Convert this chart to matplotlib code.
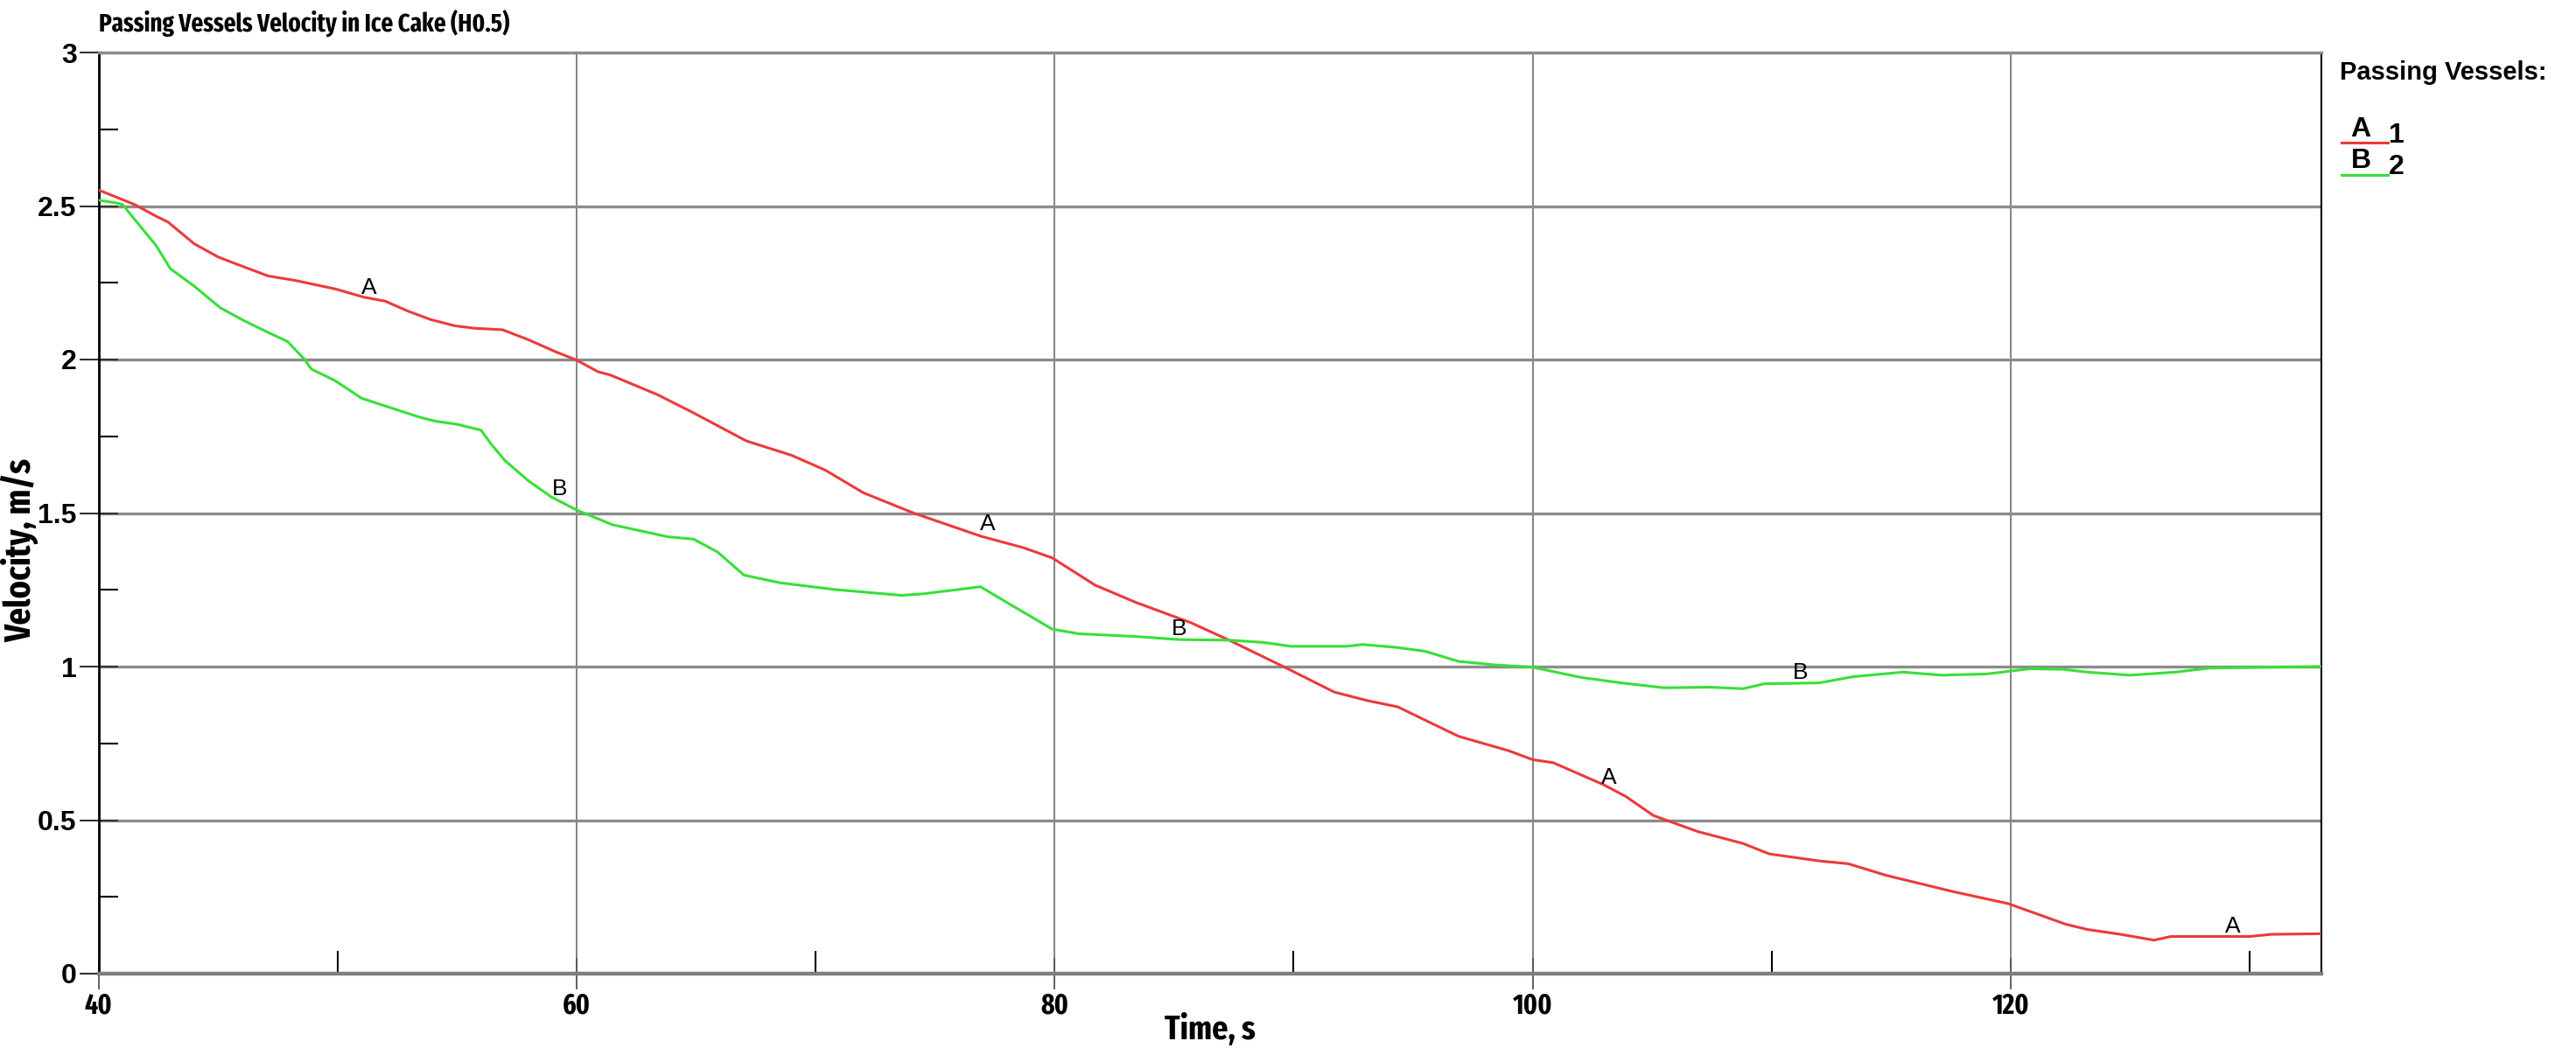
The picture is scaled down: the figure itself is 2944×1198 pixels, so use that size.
import numpy as np
import matplotlib
matplotlib.use("Agg")
import matplotlib.pyplot as plt
from matplotlib.lines import Line2D
from matplotlib.legend_handler import HandlerLine2D
from matplotlib.text import Text
from matplotlib.ticker import MultipleLocator

# ---------------- data ----------------
time_a = [40, 40.9, 41.5, 42.4, 42.9, 44, 45, 45.8, 47.1, 48.2, 49.9, 51.1, 52, 52.9,
          53.9, 54.9, 55.7, 56.9, 58, 59.1, 60, 60.9, 61.4, 63.4, 64.8, 67.1, 69, 70.4,
          72, 74.1, 76.9, 78.7, 79.9, 81.7, 83.4, 85.7, 87.3, 89.65, 91.7, 93.1, 94.35,
          96.9, 99, 100, 100.86, 102.95, 103.9, 105.05, 106.9, 108.8, 109.9, 112, 113.2,
          114.8, 117.6, 119.9, 122.3, 123.2, 124.6, 126, 126.7, 130, 130.9, 133]
vel_a = [2.552, 2.524, 2.505, 2.467, 2.448, 2.377, 2.334, 2.31, 2.272, 2.258, 2.23, 2.203,
         2.19, 2.159, 2.13, 2.11, 2.102, 2.097, 2.064, 2.026, 1.998, 1.96, 1.95, 1.885,
         1.83, 1.735, 1.688, 1.64, 1.566, 1.5, 1.425, 1.387, 1.354, 1.265, 1.209, 1.143,
         1.086, 0.997, 0.917, 0.889, 0.869, 0.773, 0.726, 0.697, 0.687, 0.616, 0.577,
         0.515, 0.463, 0.424, 0.39, 0.367, 0.358, 0.32, 0.267, 0.228, 0.161, 0.144,
         0.128, 0.109, 0.121, 0.121, 0.128, 0.13]

time_b = [40, 40.8, 41, 41.7, 42.4, 43, 44, 45.1, 46.1, 47.1, 47.9, 48.6, 48.9, 49.9, 51,
          52.1, 53.4, 54.1, 55, 56, 56.4, 57, 58, 58.95, 60, 61.5, 63.8, 64.9, 65.9, 67,
          68.5, 70.8, 73.6, 74.5, 76.9, 78, 79.9, 81, 83.4, 85.2, 87.3, 88.7, 89.9, 92.2,
          92.9, 94.35, 95.5, 96.9, 98.5, 100, 102, 103.7, 105.5, 107.4, 108.8, 109.7, 112,
          113.4, 115.5, 117.1, 119, 120.8, 122.2, 123.2, 125, 126.9, 128.3, 130.8, 133]
vel_b = [2.519, 2.509, 2.505, 2.438, 2.372, 2.296, 2.239, 2.168, 2.126, 2.088, 2.059,
         2.002, 1.969, 1.931, 1.874, 1.846, 1.813, 1.799, 1.789, 1.77, 1.727, 1.671,
         1.604, 1.552, 1.51, 1.462, 1.423, 1.415, 1.373, 1.298, 1.273, 1.251, 1.232,
         1.237, 1.26, 1.209, 1.122, 1.107, 1.098, 1.088, 1.086, 1.079, 1.066, 1.066,
         1.072, 1.062, 1.05, 1.017, 1.005, 0.998, 0.965, 0.947, 0.931, 0.933, 0.928,
         0.944, 0.947, 0.967, 0.982, 0.972, 0.976, 0.993, 0.991, 0.982, 0.972, 0.982,
         0.995, 0.998, 1.0]

# curve-marker letters along the lines
mark_a_t = [51.3, 77.2, 103.2, 129.3]
mark_a_v = [2.20, 1.43, 0.605, 0.121]
mark_b_t = [59.3, 85.2, 111.2]
mark_b_v = [1.545, 1.088, 0.946]

series_names = ["1", "2"]
title = "Passing Vessels Velocity in Ice Cake (H0.5)"
legend_title = "Passing Vessels:"
xlabel = "Time, s"
ylabel = "Velocity, m/s"
xticks = [40, 60, 80, 100, 120]
yticks = [0, 0.5, 1, 1.5, 2, 2.5, 3]
ytick_labels = ["0", "0.5", "1", "1.5", "2", "2.5", "3"]

RED = "#ec3a3a"
GREEN = "#38df38"
NARROW = ["Fira Sans Extra Condensed", "IBM Plex Sans Condensed", "Liberation Sans", "DejaVu Sans"]
WIDE = ["Liberation Sans", "DejaVu Sans"]

W, H = 2944, 1198
fig = plt.figure(figsize=(W / 100, H / 100), dpi=100)
L, R, T, B = 112.7, 2653, 60, 1113
ax = fig.add_axes([L / W, 1 - B / H, (R - L) / W, (B - T) / H])

ax.set_xlim(40, 133)
ax.set_ylim(0, 3)

for x in xticks[1:]:
    ax.axvline(x, color="#7a7a7a", lw=1.3, zorder=0)
for y in yticks[1:]:
    ax.axhline(y, color="#8c8c8c", lw=2.4, zorder=0)

ax.plot(time_a, vel_a, color=RED, lw=2.2, zorder=3)
ax.plot(time_b, vel_b, color=GREEN, lw=2.2, zorder=3)

for t, v in zip(mark_a_t, mark_a_v):
    ax.text(t, v, "A", ha="center", va="bottom", fontsize=19, family=WIDE, color="black", zorder=4)
for t, v in zip(mark_b_t, mark_b_v):
    ax.text(t, v, "B", ha="center", va="bottom", fontsize=19, family=WIDE, color="black", zorder=4)

ax.spines["top"].set_color("#8c8c8c")
ax.spines["top"].set_linewidth(2.4)
ax.spines["bottom"].set_color("#7f7f7f")
ax.spines["bottom"].set_linewidth(3.2)
ax.spines["left"].set_color("black")
ax.spines["left"].set_linewidth(2.0)
ax.spines["right"].set_color("black")
ax.spines["right"].set_linewidth(1.5)

ax.set_xticks(xticks)
ax.set_xticklabels([str(x) for x in xticks], fontsize=23, fontweight="bold", family=NARROW)
ax.xaxis.set_minor_locator(MultipleLocator(10))
ax.set_yticks(yticks)
ax.set_yticklabels(ytick_labels, fontsize=23, fontweight="bold", family=WIDE)
ax.yaxis.set_minor_locator(MultipleLocator(0.25))

ax.tick_params(axis="x", which="major", direction="inout", length=26, width=1.3,
               color="#555555", pad=2)
ax.tick_params(axis="x", which="minor", direction="in", length=19, width=1.5, color="black")
ax.tick_params(axis="y", which="major", direction="inout", length=32, width=1.5,
               color="#333333", pad=2)
ax.tick_params(axis="y", which="minor", direction="in", length=16, width=1.5, color="black")

ax.set_xlabel(xlabel, fontsize=28, fontweight="bold", labelpad=-5, family=NARROW)
ax.set_ylabel(ylabel, fontsize=30, fontweight="bold", family=NARROW)
ax.yaxis.set_label_coords(-0.027, 0.46)

ax.text(0.0, 1.017, title, transform=ax.transAxes, ha="left", va="bottom",
        fontsize=21, fontweight="bold", family=NARROW)


class LetterHandler(HandlerLine2D):
    def __init__(self, letter, **kw):
        super().__init__(**kw)
        self.letter = letter

    def create_artists(self, legend, orig_handle, xdescent, ydescent, width, height,
                       fontsize, trans):
        arts = super().create_artists(legend, orig_handle, xdescent, ydescent, width,
                                      height, fontsize, trans)
        for a in arts:
            if isinstance(a, Line2D):
                yd = np.asarray(a.get_ydata(), dtype=float)
                a.set_ydata(np.full_like(yd, -ydescent - 0.02 * height))
        txt = Text(width * 0.42 - xdescent, -ydescent, self.letter,
                   ha="center", va="bottom", fontsize=fontsize, fontweight="bold",
                   family=WIDE, color="black")
        txt.set_transform(trans)
        return arts + [txt]


fig.text(2674 / W, 1 - 83 / H, legend_title, ha="left", va="center",
         fontsize=21, fontweight="bold", family=WIDE)

handles = [Line2D([], [], color=RED, lw=2.2), Line2D([], [], color=GREEN, lw=2.2)]
leg = fig.legend(handles, series_names, loc="upper left",
                 bbox_to_anchor=(2676 / W, 1 - 140 / H), frameon=False,
                 handler_map={handles[0]: LetterHandler("A"), handles[1]: LetterHandler("B")},
                 handlelength=1.65, handletextpad=0.05, labelspacing=0.2,
                 borderpad=0, borderaxespad=0,
                 prop={"size": 23, "weight": "bold", "family": WIDE})

fig.savefig("out.png", dpi=100, facecolor="white")
